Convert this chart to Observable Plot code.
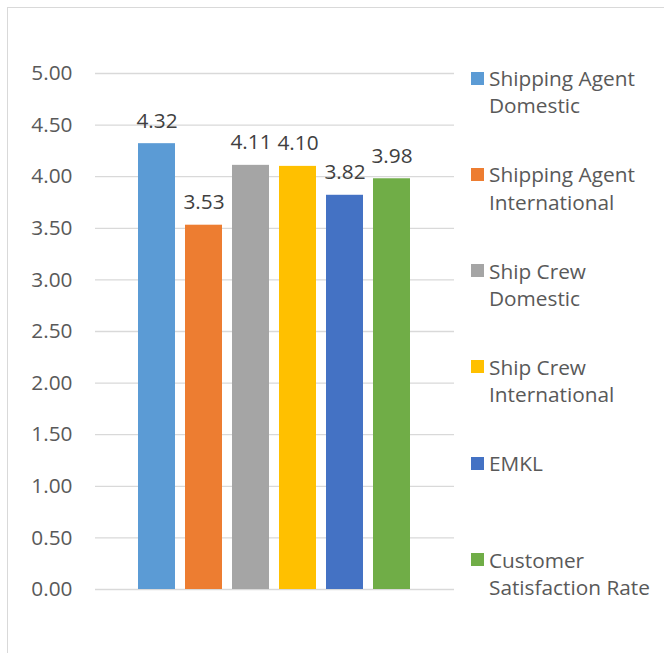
<!DOCTYPE html>
<html>
<head>
<meta charset="utf-8">
<script src="https://cdn.jsdelivr.net/npm/d3@7"></script>
<script src="https://cdn.jsdelivr.net/npm/@observablehq/plot@0.6"></script>
<style>
  html, body { margin: 0; padding: 0; background: #fff; }
  #wrap { position: relative; width: 664px; height: 653px; overflow: hidden; font-family: "Open Sans", sans-serif; }
  #frame { position: absolute; left: 7px; top: 7px; width: 800px; height: 800px; border: 1px solid #d9d9d9; box-sizing: border-box; }
  #chart { position: absolute; left: 0; top: 0; }
  .leg { position: absolute; left: 471px; font-size: 20.8px; line-height: 27.3px; color: #595959; }
  .leg .sw { position: absolute; left: 0; top: 6.5px; width: 13px; height: 13px; }
  .leg .tx { position: absolute; left: 18px; white-space: nowrap; }
</style>
</head>
<body>
<div id="wrap">
  <div id="frame"></div>
  <div id="chart"></div>
</div>
<script>
const categories = ["Shipping Agent Domestic", "Shipping Agent International", "Ship Crew Domestic", "Ship Crew International", "EMKL", "Customer Satisfaction Rate"];
const legendLines = [["Shipping Agent", "Domestic"], ["Shipping Agent", "International"], ["Ship Crew", "Domestic"], ["Ship Crew", "International"], ["EMKL"], ["Customer", "Satisfaction Rate"]];
const values = [4.32, 3.53, 4.11, 4.10, 3.82, 3.98];
const colors = ["#5B9BD5", "#ED7D31", "#A5A5A5", "#FFC000", "#4472C4", "#70AD47"];
const yTicks = [0, 0.5, 1, 1.5, 2, 2.5, 3, 3.5, 4, 4.5, 5];

const data = categories.map((c, i) => ({name: c, value: values[i]}));

const chart = Plot.plot({
  width: 664,
  height: 653,
  marginLeft: 95,
  marginRight: 210,
  marginTop: 73,
  marginBottom: 64,
  style: {fontFamily: "'Open Sans', sans-serif", fontSize: "20.8px", color: "#595959", background: "transparent", overflow: "visible"},
  x: {domain: categories, range: [136, 413], paddingInner: 0.21, paddingOuter: 0, axis: null},
  y: {domain: [0, 5], ticks: yTicks, tickFormat: d3.format(".2f"), tickSize: 0, tickPadding: 23, label: null},
  color: {domain: categories, range: colors},
  marks: [
    Plot.ruleY(yTicks, {stroke: "#d9d9d9", strokeWidth: 1.3}),
    Plot.barY(data, {x: "name", y: "value", fill: "name"}),
    Plot.text(data, {x: "name", y: "value", text: d => d3.format(".2f")(d.value), lineAnchor: "bottom", dy: -16, fill: "#404040", fontSize: 20.8})
  ]
});
document.getElementById("chart").appendChild(chart);

const wrap = document.getElementById("wrap");
legendLines.forEach((lines, i) => {
  const top = 65 + 96.3 * i;
  const item = document.createElement("div");
  item.className = "leg";
  item.style.top = top + "px";
  const sw = document.createElement("div");
  sw.className = "sw";
  sw.style.background = colors[i];
  const tx = document.createElement("div");
  tx.className = "tx";
  tx.innerHTML = lines.join("<br>");
  item.appendChild(sw);
  item.appendChild(tx);
  wrap.appendChild(item);
});
</script>
</body>
</html>
